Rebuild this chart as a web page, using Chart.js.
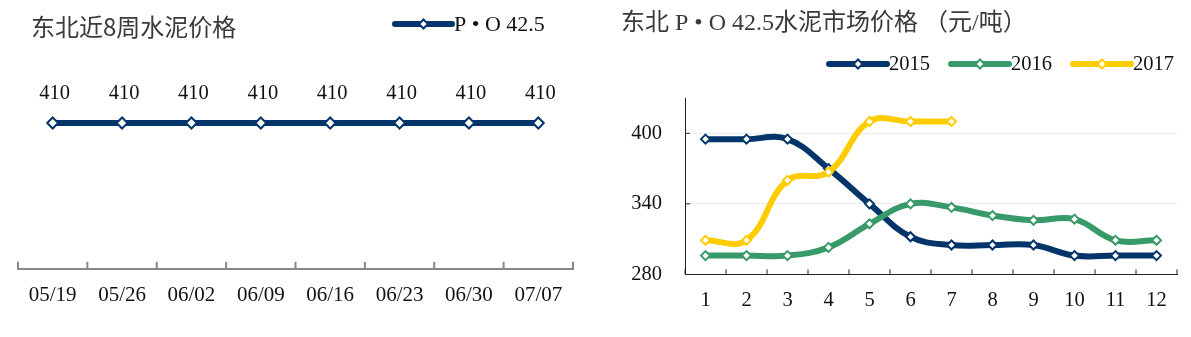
<!DOCTYPE html>
<html>
<head>
<meta charset="utf-8">
<script src="https://cdn.jsdelivr.net/npm/chart.js@4.4.0/dist/chart.umd.min.js"></script>
<style>
  html, body { margin: 0; padding: 0; background: #fff; }
  #wrap { position: relative; width: 1191px; height: 337px; }
  .box { position: absolute; top: 0; height: 337px; }
  #left { left: 0; width: 596px; }
  #right { left: 596px; width: 595px; }
</style>
</head>
<body>
<div id="wrap">
  <div class="box" id="left"><canvas id="weekChart"></canvas></div>
  <div class="box" id="right"><canvas id="yearChart"></canvas></div>
</div>
<script>
// 东北近8周
const weeks = ['05/19', '05/26', '06/02', '06/09', '06/16', '06/23', '06/30', '07/07'];
const weekPrice = [410, 410, 410, 410, 410, 410, 410, 410];

// 东北 P·O 42.5 月度价格
const months = ['1', '2', '3', '4', '5', '6', '7', '8', '9', '10', '11', '12'];
const price2015 = [395, 395, 395, 370, 340, 312, 305, 305, 305, 296, 296, 296];
const price2016 = [296, 296, 296, 303, 323, 340, 337, 330, 326, 327, 309, 309];
const price2017 = [309, 309, 360, 367, 410, 410, 410];
const yearTicks = [280, 340, 400];

const SERIF = '"Liberation Serif", "Times New Roman", "Noto Sans CJK SC", serif';
const NAVY = '#03356a';
const GREEN = '#379a68';
const YELLOW = '#ffcc00';

function diamond(ctx, x, y, r, color) {
  ctx.beginPath();
  ctx.moveTo(x, y - r);
  ctx.lineTo(x + r, y);
  ctx.lineTo(x, y + r);
  ctx.lineTo(x - r, y);
  ctx.closePath();
  ctx.fillStyle = '#fff';
  ctx.fill();
  ctx.lineWidth = 2;
  ctx.strokeStyle = color;
  ctx.stroke();
}

// title + legend drawn by hand (excel style: line sample with marker)
const headings = {
  id: 'headings',
  afterDraw(chart, args, opts) {
    const ctx = chart.ctx;
    ctx.save();
    ctx.textBaseline = 'middle';
    ctx.textAlign = 'left';
    ctx.font = opts.titleFont;
    ctx.fillStyle = '#3a3a3a';
    ctx.fillText(opts.title, opts.titleX, opts.titleY);
    ctx.font = opts.legendFont;
    chart.data.datasets.forEach((ds, i) => {
      const it = opts.legend[i];
      ctx.beginPath();
      ctx.moveTo(it.x, opts.legendY);
      ctx.lineTo(it.x + it.w, opts.legendY);
      ctx.lineCap = 'round';
      ctx.lineWidth = 6;
      ctx.strokeStyle = ds.borderColor;
      ctx.stroke();
      diamond(ctx, it.x + it.w / 2, opts.legendY, 4.5, ds.borderColor);
      ctx.fillStyle = '#111';
      ctx.fillText(ds.label, it.x + it.w + 2, opts.legendY + 1);
    });
    ctx.restore();
  }
};

// excel "inside" tick marks
const innerTicks = {
  id: 'innerTicks',
  afterDraw(chart, args, opts) {
    const ctx = chart.ctx;
    const s = chart.scales.x;
    const step = s.getPixelForValue(1) - s.getPixelForValue(0);
    const x0 = s.getPixelForValue(0) - step / 2;
    ctx.save();
    ctx.strokeStyle = opts.color;
    ctx.lineWidth = opts.width;
    for (let i = 0; i <= s.ticks.length; i++) {
      const x = x0 + i * step;
      ctx.beginPath();
      ctx.moveTo(x, s.top);
      ctx.lineTo(x, s.top - opts.length);
      ctx.stroke();
    }
    if (opts.yTicks) {
      const y = chart.scales.y;
      opts.yTicks.forEach(v => {
        const py = y.getPixelForValue(v);
        ctx.beginPath();
        ctx.moveTo(y.right, py);
        ctx.lineTo(y.right + opts.length, py);
        ctx.stroke();
      });
    }
    ctx.restore();
  }
};

const valueLabels = {
  id: 'valueLabels',
  afterDatasetsDraw(chart) {
    const ctx = chart.ctx;
    const meta = chart.getDatasetMeta(0);
    ctx.save();
    ctx.font = '20.5px ' + SERIF;
    ctx.fillStyle = '#111';
    ctx.textAlign = 'center';
    ctx.textBaseline = 'middle';
    meta.data.forEach((pt, i) => {
      ctx.fillText(String(chart.data.datasets[0].data[i]), pt.x + 2, pt.y - 29);
    });
    ctx.restore();
  }
};

Chart.defaults.font.family = SERIF;
Chart.defaults.color = '#111';

new Chart(document.getElementById('weekChart'), {
  type: 'line',
  data: {
    labels: weeks,
    datasets: [{
      label: 'P • O 42.5',
      data: weekPrice,
      borderColor: NAVY,
      borderWidth: 6,
      tension: 0,
      pointStyle: 'rectRot',
      pointRadius: 5.5,
      pointBorderWidth: 2,
      pointBackgroundColor: '#fff',
      pointBorderColor: NAVY
    }]
  },
  options: {
    responsive: true,
    maintainAspectRatio: false,
    animation: false,
    layout: { padding: { left: 18, right: 23, top: 70, bottom: 15 } },
    plugins: {
      legend: { display: false },
      tooltip: { enabled: false },
      headings: {
        title: '东北近8周水泥价格',
        titleFont: '24px "Noto Sans CJK SC", sans-serif',
        titleX: 31, titleY: 27,
        legendFont: '22px ' + SERIF,
        legendY: 24,
        legend: [{ x: 395, w: 57 }]
      },
      innerTicks: { color: '#888', width: 2, length: 7 }
    },
    scales: {
      x: {
        offset: true,
        grid: { display: false, drawTicks: false },
        border: { display: true, color: '#888', width: 2 },
        ticks: { padding: 14, font: { size: 21 } }
      },
      y: { display: false, min: 300, max: 450 }
    }
  },
  plugins: [headings, innerTicks, valueLabels]
});

const smooth = (label, data, color, order) => ({
  label, data, order,
  borderColor: color,
  borderWidth: 6,
  tension: 0.4,
  borderCapStyle: 'round',
  borderJoinStyle: 'round',
  pointStyle: 'rectRot',
  pointRadius: 4.5,
  pointBorderWidth: 2,
  pointBackgroundColor: '#fff',
  pointBorderColor: color
});

new Chart(document.getElementById('yearChart'), {
  type: 'line',
  data: {
    labels: months,
    datasets: [
      smooth('2015', price2015, NAVY, 2),
      smooth('2016', price2016, GREEN, 1),
      smooth('2017', price2017, YELLOW, 0)
    ]
  },
  options: {
    responsive: true,
    maintainAspectRatio: false,
    animation: false,
    layout: { padding: { left: 9, right: 14, top: 98, bottom: 10 } },
    plugins: {
      legend: { display: false },
      tooltip: { enabled: false },
      headings: {
        title: '东北 P • O 42.5水泥市场价格 （元/吨）',
        titleFont: '24px ' + SERIF,
        titleX: 25, titleY: 24,
        legendFont: '20.5px ' + SERIF,
        legendY: 64,
        legend: [{ x: 233, w: 58 }, { x: 355, w: 58 }, { x: 477, w: 58 }]
      },
      innerTicks: { color: '#222', width: 1, length: 5, yTicks: [340, 400] }
    },
    scales: {
      x: {
        offset: true,
        grid: { display: false, drawTicks: false },
        border: { display: true, color: '#222', width: 1 },
        ticks: { padding: 14, font: { size: 20.5 } }
      },
      y: {
        min: 280,
        max: 430,
        afterBuildTicks: s => { s.ticks = yearTicks.map(v => ({ value: v })); },
        afterFit: s => { s.width = 80; },
        grid: {
          drawTicks: false,
          color: c => (c.tick && c.tick.value === 280 ? 'rgba(0,0,0,0)' : '#ebebeb')
        },
        border: { display: true, color: '#222', width: 1 },
        ticks: { padding: 23, font: { size: 20.5 } }
      }
    }
  },
  plugins: [headings, innerTicks]
});
</script>
</body>
</html>
